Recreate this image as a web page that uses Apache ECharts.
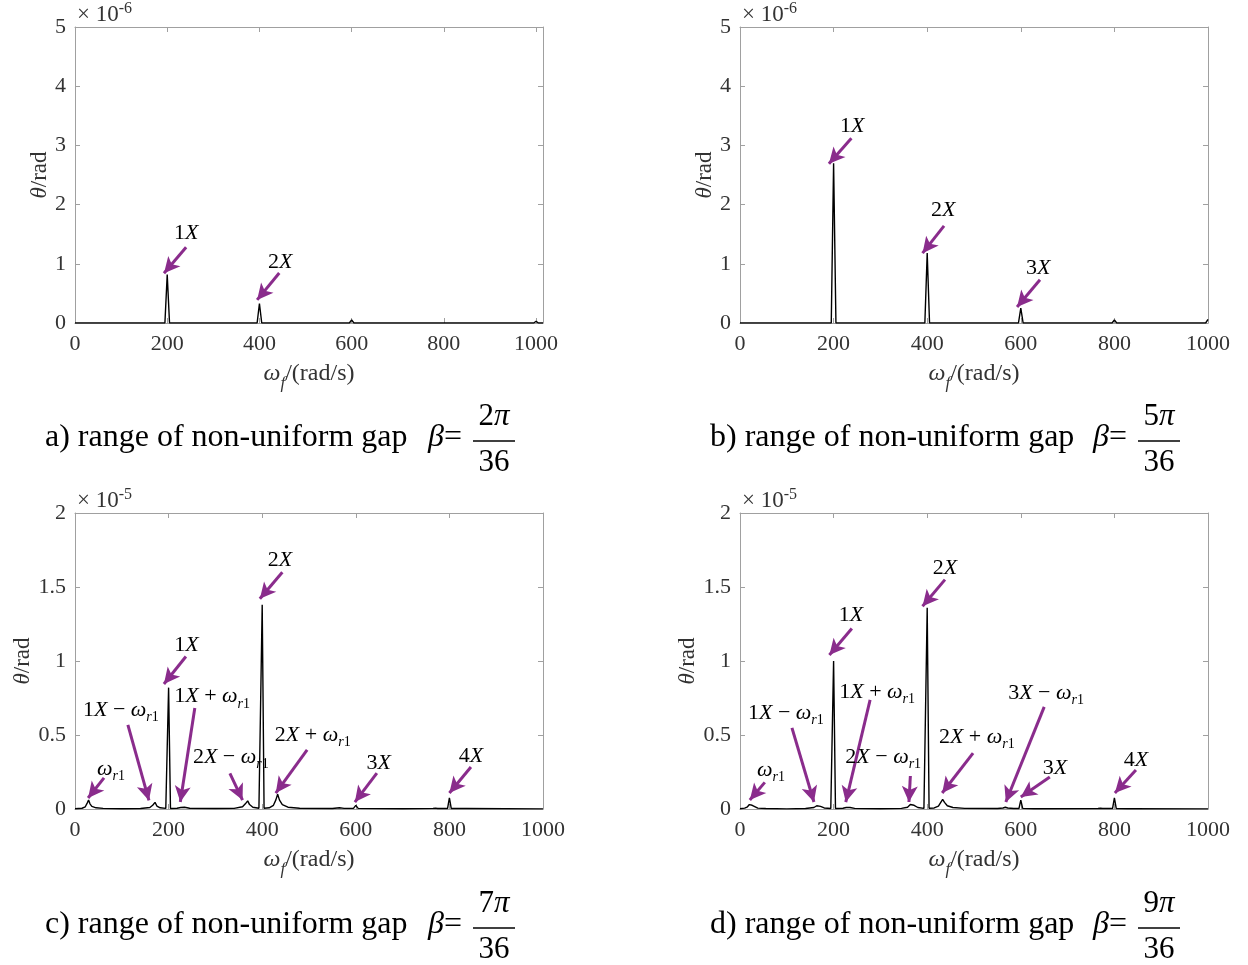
<!DOCTYPE html>
<html><head><meta charset="utf-8">
<script src="https://cdn.jsdelivr.net/npm/echarts@6/dist/echarts.min.js"></script>
<style>html,body{margin:0;padding:0;background:#fff}#c{width:1248px;height:965px}</style>
</head><body><div id="c"></div>
<script>
// ---- data (values in units of the axis multiplier) ----
const xTicksAll = [0, 200, 400, 600, 800, 1000];
const yMaxAB = 5, yIntAB = 1;      // ×10^-6
const yMaxCD = 2, yIntCD = 0.5;    // ×10^-5

const seriesA = [[0,0],[195,0],[200,0.82],[205,0],[395,0],[400,0.33],[405,0],[595,0],[600,0.05],[605,0],[995,0],[1000,0.03],[1005,0],[1015,0]];
const seriesB = [[0,0],[195,0],[200,2.7],[205,0],[395,0],[400,1.18],[405,0],[595,0],[600,0.25],[605,0],[795,0],[800,0.05],[805,0],[995,0],[1000,0.06]];
const seriesC = [[0,0.002],[15,0.005],[22,0.015],[26,0.04],[29,0.06],[32,0.035],[36,0.018],[45,0.008],[60,0.004],[100,0.002],
  [140,0.003],[160,0.01],[166,0.025],[171,0.045],[175,0.02],[182,0.008],[194,0.004],
  [196,0.003],[200,0.82],[204,0.003],
  [218,0.005],[226,0.01],[230,0.02],[234,0.012],[245,0.005],[300,0.003],
  [340,0.004],[358,0.015],[364,0.035],[369,0.055],[373,0.03],[380,0.012],[393,0.005],
  [396,0.003],[400,1.38],[404,0.005],
  [415,0.008],[424,0.025],[429,0.06],[433,0.1],[437,0.06],[443,0.03],[455,0.012],[480,0.005],
  [550,0.003],[565,0.008],[569,0.01],[575,0.004],
  [595,0.004],[600,0.025],[605,0.004],
  [700,0.002],[765,0.004],[770,0.006],[775,0.003],
  [796,0.003],[800,0.075],[804,0.003],
  [828,0.003],[832,0.01],[836,0.003],[1000,0.001]];
const seriesD = [[0,0.002],[10,0.006],[16,0.015],[20,0.03],[23,0.042],[26,0.025],[30,0.013],[38,0.006],[55,0.003],[100,0.001],
  [140,0.003],[158,0.01],[164,0.022],[168,0.03],[172,0.018],[180,0.007],[194,0.003],
  [196,0.003],[200,1.0],[204,0.003],
  [220,0.005],[227,0.01],[231,0.017],[235,0.01],[245,0.004],[300,0.002],
  [345,0.004],[358,0.012],[364,0.03],[368,0.042],[372,0.025],[380,0.01],[393,0.004],
  [396,0.004],[400,1.36],[404,0.005],
  [415,0.007],[424,0.02],[429,0.045],[433,0.065],[437,0.045],[443,0.022],[455,0.01],[480,0.004],
  [550,0.003],[562,0.007],[567,0.012],[572,0.007],[585,0.003],
  [596,0.003],[600,0.06],[604,0.004],
  [628,0.002],[632,0.005],[636,0.002],
  [765,0.003],[770,0.005],[775,0.003],
  [796,0.003],[800,0.075],[804,0.003],
  [828,0.002],[832,0.005],[836,0.002],[1000,0.001]];

// annotations: [label, labelX, labelY, arrowStartX, arrowStartY, arrowEndX, arrowEndY]
const annA = [
  ['{n|1}{i|X}', 241, 1.52, 241, 1.28, 193, 0.84],
  ['{n|2}{i|X}', 445, 1.03, 443, 0.845, 395, 0.39]
];
const annB = [
  ['{n|1}{i|X}', 240, 3.33, 238, 3.12, 190, 2.69],
  ['{n|2}{i|X}', 434, 1.91, 436, 1.64, 390, 1.18],
  ['{n|3}{i|X}', 637, 0.93, 641, 0.73, 592, 0.27]
];
const annC = [
  ['{i|ω}{si|r}{sn|1}', 77, 0.27, 62, 0.21, 28, 0.074],
  ['{n|1}{i|X}{n| − }{i|ω}{si|r}{sn|1}', 98, 0.67, 113, 0.568, 158, 0.058],
  ['{n|1}{i|X}', 238, 1.11, 237, 1.03, 190, 0.845],
  ['{n|1}{i|X}{n| + }{i|ω}{si|r}{sn|1}', 293, 0.76, 256, 0.683, 225, 0.047],
  ['{n|2}{i|X}{n| − }{i|ω}{si|r}{sn|1}', 333, 0.35, 331, 0.24, 358, 0.06],
  ['{n|2}{i|X}', 438, 1.68, 443, 1.6, 395, 1.42],
  ['{n|2}{i|X}{n| + }{i|ω}{si|r}{sn|1}', 508, 0.5, 496, 0.4, 429, 0.108],
  ['{n|3}{i|X}', 649, 0.31, 645, 0.243, 598, 0.047],
  ['{n|4}{i|X}', 846, 0.36, 846, 0.284, 800, 0.108]
];
const annD = [
  ['{i|ω}{si|r}{sn|1}', 66, 0.264, 53, 0.18, 21, 0.061],
  ['{n|1}{i|X}{n| − }{i|ω}{si|r}{sn|1}', 98, 0.65, 111, 0.548, 158, 0.047],
  ['{n|1}{i|X}', 237, 1.31, 239, 1.22, 191, 1.04],
  ['{n|1}{i|X}{n| + }{i|ω}{si|r}{sn|1}', 293, 0.79, 278, 0.737, 226, 0.047],
  ['{n|2}{i|X}{n| − }{i|ω}{si|r}{sn|1}', 306, 0.35, 364, 0.223, 361, 0.047],
  ['{n|2}{i|X}', 438, 1.63, 438, 1.55, 390, 1.37],
  ['{n|2}{i|X}{n| + }{i|ω}{si|r}{sn|1}', 506, 0.487, 498, 0.378, 432, 0.108],
  ['{n|3}{i|X}{n| − }{i|ω}{si|r}{sn|1}', 654, 0.784, 650, 0.69, 568, 0.047],
  ['{n|3}{i|X}', 673, 0.277, 662, 0.216, 600, 0.081],
  ['{n|4}{i|X}', 846, 0.331, 846, 0.264, 801, 0.108]
];

const captions = [
  ['a) range of non-uniform gap', '{n|2}{i|π}'],
  ['b) range of non-uniform gap', '{n|5}{i|π}'],
  ['c) range of non-uniform gap', '{n|7}{i|π}'],
  ['d) range of non-uniform gap', '{n|9}{i|π}']
];
const multipliers = ['-6', '-6', '-5', '-5'];

// ---- layout ----
const F = 'Liberation Serif';
const FQ = '"Liberation Serif", serif';
const PURPLE = '#8a2c8c';
const AXC = '#a0a0a0';
const grids = [
  {left: 75, top: 27, width: 468, height: 296},
  {left: 740, top: 27, width: 468, height: 296},
  {left: 75, top: 513, width: 468, height: 296},
  {left: 740, top: 513, width: 468, height: 296}
];
const xMax = [1015, 1000, 1000, 1000];
const yMax = [yMaxAB, yMaxAB, yMaxCD, yMaxCD];
const yInt = [yIntAB, yIntAB, yIntCD, yIntCD];
const nameGapY = [20, 20, 35, 35];
const allSeries = [seriesA, seriesB, seriesC, seriesD];
const allAnn = [annA, annB, annC, annD];

const rich = {
  n: {fontFamily: F, fontSize: 22, lineHeight: 29, color: '#000'},
  i: {fontFamily: F, fontSize: 22, fontStyle: 'italic', lineHeight: 29, color: '#000'},
  si: {fontFamily: F, fontSize: 14, fontStyle: 'italic', lineHeight: 14, verticalAlign: 'bottom', color: '#000'},
  sn: {fontFamily: F, fontSize: 14, lineHeight: 14, verticalAlign: 'bottom', color: '#000'}
};
const richAxis = {
  n: {fontFamily: F, fontSize: 24, lineHeight: 36, color: '#333'},
  i: {fontFamily: F, fontSize: 24, fontStyle: 'italic', lineHeight: 36, color: '#333'},
  si: {fontFamily: F, fontSize: 17, fontStyle: 'italic', lineHeight: 17, verticalAlign: 'bottom', color: '#333'}
};

const xAxes = [], yAxes = [], series = [], graphic = [];
grids.forEach((g, k) => {
  const common = {
    type: 'value', gridIndex: k, min: 0,
    axisLine: {show: true, onZero: false, lineStyle: {color: AXC, width: 1}},
    axisTick: {show: true, inside: true, length: 5, lineStyle: {color: AXC}},
    splitLine: {show: false}
  };
  xAxes.push(Object.assign({}, common, {
    max: xMax[k], interval: 200, position: 'bottom',
    axisLabel: {show: true, margin: 10, fontFamily: F, fontSize: 22, color: '#333',
      showMaxLabel: xMax[k] === 1000, formatter: v => String(v)},
    name: '{i|ω}{si|f}{n|/(rad/s)}', nameLocation: 'middle', nameGap: 33,
    nameTextStyle: {rich: richAxis}
  }));
  xAxes.push(Object.assign({}, common, {
    max: xMax[k], interval: 200, position: 'top', axisLabel: {show: false}
  }));
  yAxes.push(Object.assign({}, common, {
    max: yMax[k], interval: yInt[k], position: 'left',
    axisLabel: {show: true, margin: 9, fontFamily: F, fontSize: 22, color: '#333', formatter: v => String(v)},
    name: '{i|θ}{n|/rad}', nameLocation: 'middle', nameGap: nameGapY[k],
    nameTextStyle: {rich: {
      n: {fontFamily: F, fontSize: 23, color: '#333'},
      i: {fontFamily: F, fontSize: 23, fontStyle: 'italic', color: '#333'}
    }}
  }));
  yAxes.push(Object.assign({}, common, {
    max: yMax[k], interval: yInt[k], position: 'right', axisLabel: {show: false}
  }));

  const ann = allAnn[k];
  series.push({
    type: 'line', xAxisIndex: 2 * k, yAxisIndex: 2 * k,
    data: allSeries[k], showSymbol: false, symbol: 'none',
    lineStyle: {color: '#000', width: 1.4}, silent: true,
    markLine: {
      silent: true, symbol: ['none', 'arrow'], symbolSize: [12, 16],
      lineStyle: {color: PURPLE, width: 3, type: 'solid'},
      itemStyle: {color: PURPLE},
      label: {show: false},
      data: ann.map(a => [{coord: [a[3], a[4]]}, {coord: [a[5], a[6]]}])
    },
    markPoint: {
      silent: true, symbol: 'circle', symbolSize: 1,
      itemStyle: {color: 'rgba(0,0,0,0)'},
      data: ann.map(a => ({
        coord: [a[1], a[2]],
        label: {show: true, position: 'inside', formatter: a[0], rich: rich}
      }))
    }
  });

  // multiplier label above the y axis
  graphic.push({
    type: 'text', x: g.left + 2, y: g.top - 12,
    style: {
      text: '{n|× 10}{s|' + multipliers[k] + '}', verticalAlign: 'middle', align: 'left',
      rich: {
        n: {font: '23px ' + FQ, lineHeight: 28, fill: '#333'},
        s: {font: '16px ' + FQ, lineHeight: 16, verticalAlign: 'top', fill: '#333'}
      }
    }
  });

  // caption
  const cx = k % 2 === 0 ? 45 : 710;
  const cy = k < 2 ? 438 : 925;
  const fx = cx + 449;
  graphic.push({
    type: 'text', x: cx, y: cy,
    style: {text: captions[k][0], font: '32px ' + FQ, fill: '#000', verticalAlign: 'middle', align: 'left'}
  });
  graphic.push({
    type: 'text', x: cx + 383, y: cy,
    style: {text: '{i|β}{n|=}', verticalAlign: 'middle', align: 'left',
      rich: {n: {font: '32px ' + FQ, fill: '#000'}, i: {font: 'italic 32px ' + FQ, fill: '#000'}}}
  });
  graphic.push({
    type: 'text', x: fx, y: cy - 21,
    style: {text: captions[k][1], verticalAlign: 'middle', align: 'center',
      rich: {n: {font: '31px ' + FQ, fill: '#000'}, i: {font: 'italic 31px ' + FQ, fill: '#000'}}}
  });
  graphic.push({
    type: 'line', shape: {x1: fx - 21, y1: cy + 3, x2: fx + 21, y2: cy + 3},
    style: {stroke: '#000', lineWidth: 1.5}
  });
  graphic.push({
    type: 'text', x: fx, y: cy + 25,
    style: {text: '36', font: '31px ' + FQ, fill: '#000', verticalAlign: 'middle', align: 'center'}
  });
});

const chart = echarts.init(document.getElementById('c'), null, {renderer: 'canvas'});
chart.setOption({
  animation: false,
  backgroundColor: '#fff',
  grid: grids.map(g => Object.assign({containLabel: false}, g)),
  xAxis: xAxes, yAxis: yAxes, series: series, graphic: graphic
});
</script></body></html>
